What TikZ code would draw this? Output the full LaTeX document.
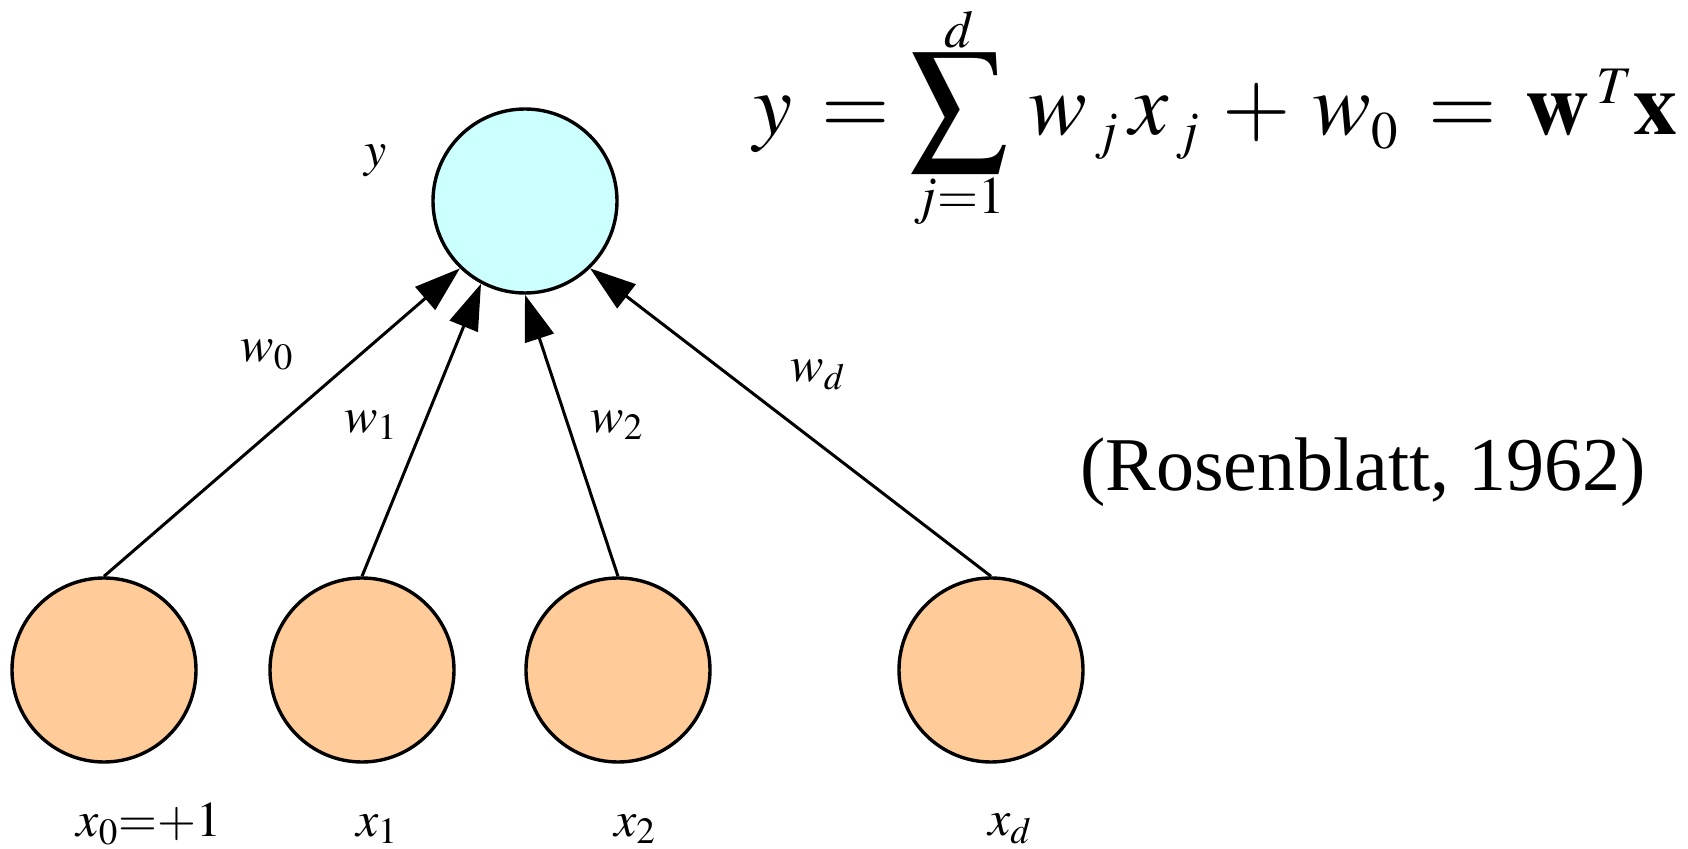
\documentclass[tikz,border=0pt]{standalone}
\usepackage{mathptmx}
\usepackage{fontspec}
\setmainfont{Liberation Serif}
\usepackage{tikz}
\usetikzlibrary{arrows.meta}
\definecolor{OutCyan}{HTML}{CCFFFF}
\definecolor{InOrange}{HTML}{FFCC99}
\newcommand{\bigsum}{\mathop{\vcenter{\hbox{\scalebox{1.1}{$\displaystyle\sum$}}}}}
\newcommand{\limup}[1]{\smash{\raisebox{-6pt}{$\scriptscriptstyle #1$}}}
\newcommand{\limdown}[1]{\smash{\raisebox{6pt}{$\scriptscriptstyle #1$}}}

\begin{document}
\begin{tikzpicture}[
    x=0.5pt, y=-0.5pt,
    outunit/.style={circle, draw=black, fill=OutCyan, line width=1.7pt,
                    minimum size=92pt, inner sep=0pt},
    inunit/.style={circle, draw=black, fill=InOrange, line width=1.7pt,
                   minimum size=92pt, inner sep=0pt},
    lbl/.style={inner sep=0pt, font=\fontsize{25}{30}\selectfont},
    conn/.style={-{Triangle[length=23pt, width=15pt]}, line width=1.5pt},
]
  \useasboundingbox (0,0) rectangle (1688,849);
  % Output unit
  \node[outunit] (y) at (525,201) {};
  \node[lbl] (ly) at (376,161) {$y$};
  % Input units
  \foreach \n/\px in {0/104, 1/362, 2/618, d/991}{
    \node[inunit] (x\n) at (\px,670) {};
  }
  \node[lbl] (lx0) at (149,824) {$x_0{=}{+}1$};
  \node[lbl] (lx1) at (377,829) {$x_1$};
  \node[lbl] (lx2) at (635,829) {$x_2$};
  \node[lbl] (lxd) at (1010,829) {$x_d$};
  % Weights
  \foreach \n/\a in {0/226, 1/242, 2/270, d/314}{
    \draw[conn] (x\n.north) -- (y.\a);
  }
  \node[lbl] (w0) at (267,355) {$w_0$};
  \node[lbl] (w1) at (371,425) {$w_1$};
  \node[lbl] (w2) at (617,425) {$w_2$};
  \node[lbl] (wd) at (818,375) {$w_d$};
  % Formula and citation
  \node[anchor=base west, inner sep=0pt, font=\fontsize{44}{52}\selectfont] (eq) at (753,135)
    {$\medmuskip=4.5mu \thickmuskip=6mu
      y = \!\bigsum\limits_{\limdown{j=1}}^{\limup{d}}\,
      w_{\mskip2mu\scriptscriptstyle j}\, x_{\mskip2mu\scriptscriptstyle j} + w_{\scriptscriptstyle 0}
      = \mathbf{w}^{\,\scriptscriptstyle T}\mathbf{x}$};
  \node[anchor=west, inner sep=0pt, font=\fontsize{38}{44}\selectfont] (cite) at (1080,472)
    {(Rosenblatt, 1962)};
\end{tikzpicture}
\end{document}
